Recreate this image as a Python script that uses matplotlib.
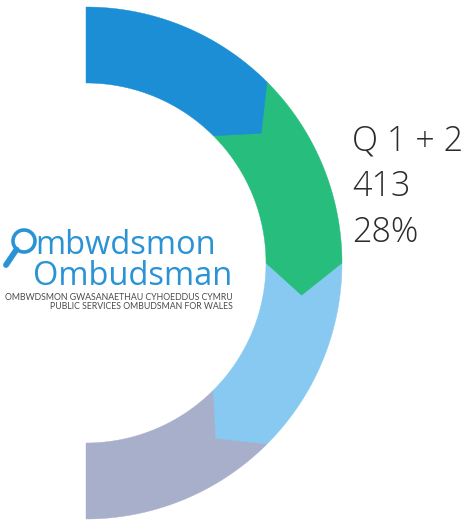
import numpy as np
import matplotlib
matplotlib.use("Agg")
import matplotlib.pyplot as plt
from matplotlib.patches import Polygon, Circle

# ---- data ----
segments = ["Q1", "Q2", "Q3", "Q4"]
shares = [25, 25, 25, 25]
colors = ["#1b8ed6", "#27bd7c", "#88c9f1", "#a8afcb"]
label_lines = ["Q 1 + 2", "413", "28%"]
logo_lines = ["mbwdsmon", "Ombudsman"]
logo_small = ["OMBWDSMON GWASANAETHAU CYHOEDDUS CYMRU",
              "PUBLIC SERVICES OMBUDSMAN FOR WALES"]

W, H = 465, 520
fig = plt.figure(figsize=(W / 100, H / 100), dpi=100)
ax = fig.add_axes([0, 0, 1, 1])
ax.set_xlim(0, W)
ax.set_ylim(H, 0)
ax.axis("off")

cx, cy = 86, 263
R_out, R_in = 256, 180
R_mid = (R_out + R_in) / 2
tip = 8.5  # degrees

def pt(r, ang):
    a = np.radians(ang)
    return (cx + r * np.cos(a), cy - r * np.sin(a))

total = sum(shares)
starts = []
a = 90.0
for v in shares:
    span = 180.0 * v / total
    starts.append((a, a - span))
    a -= span

# draw from last to first so arrow tips overlap the next segment
for i in range(len(shares) - 1, -1, -1):
    a0, a1 = starts[i]
    outer = [pt(R_out, t) for t in np.linspace(a0, a1, 80)]
    inner = [pt(R_in, t) for t in np.linspace(a1, a0, 80)]
    poly = outer[:]
    if i < len(shares) - 1:
        poly.append(pt(R_mid, a1 - tip))
    poly += inner
    ax.add_patch(Polygon(poly, closed=True, facecolor=colors[i],
                         edgecolor=colors[i], linewidth=0.3))

# label text
for k, line in enumerate(label_lines):
    ax.text(352, 151 + 45.5 * k, line, fontsize=24.5, family="Open Sans",
            fontweight="light", color="#2b2b2b", ha="left", va="baseline")

# logo
logo_blue = "#2a93d5"
ax.add_patch(Circle((24, 241), 11, fill=False, edgecolor=logo_blue, linewidth=2.6))
ax.plot([16.5, 6], [249.5, 265], color=logo_blue, linewidth=4.2, solid_capstyle="round")
ax.text(35, 254, logo_lines[0], fontsize=23.5, family="Open Sans", color=logo_blue,
        ha="left", va="baseline")
ax.text(33, 285, logo_lines[1], fontsize=23.5, family="Open Sans", color=logo_blue,
        ha="left", va="baseline")
ax.text(233, 300, logo_small[0], fontsize=6.3, family="Lato", color="#4a4a4a",
        ha="right", va="baseline")
ax.text(233, 309, logo_small[1], fontsize=6.3, family="Lato", color="#4a4a4a",
        ha="right", va="baseline")

fig.savefig("out.png", dpi=100)
